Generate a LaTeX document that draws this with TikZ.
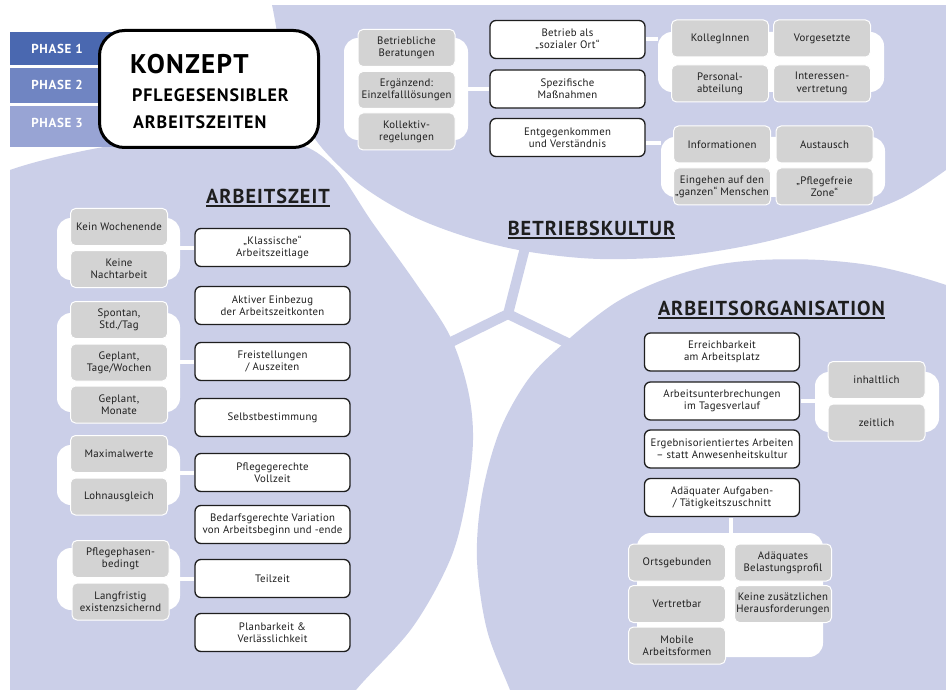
\documentclass[tikz,border=0pt]{standalone}
\usepackage{fontspec}
\setmainfont{PT Sans}[LetterSpace=2.5]
\newfontfamily\headfont{PT Sans}[LetterSpace=5]
\usetikzlibrary{positioning}

\definecolor{lav}{RGB}{203,207,232}
\definecolor{boxgray}{RGB}{211,211,211}
\definecolor{ph1}{RGB}{74,104,176}
\definecolor{ph2}{RGB}{112,133,194}
\definecolor{ph3}{RGB}{152,164,212}
\definecolor{ink}{RGB}{30,30,30}
\newcommand{\thickul}[1]{\setbox0=\hbox{#1}\leavevmode\rlap{\vrule height -1.5pt depth 3.5pt width \wd0}\box0}

\begin{document}
\begin{tikzpicture}[x=1pt,y=-1pt,
  region/.style={fill=lav},
  spoke/.style={draw=lav,line width=10pt,line cap=round},
  grp/.style={fill=white,rounded corners=14pt,inner sep=0pt},
  itm/.style={draw=white,line width=1pt,fill=boxgray,rounded corners=5pt,minimum width=97pt,minimum height=37pt,inner sep=1pt,align=center,text=ink,font=\fontsize{10.8}{12.3}\selectfont},
  blk/.style={draw=ink,line width=1.3pt,fill=white,rounded corners=6pt,minimum width=155pt,minimum height=38pt,inner sep=1pt,align=center,text=ink,font=\fontsize{10.8}{12.3}\selectfont},
  lnk/.style={draw=white,line width=4pt,shorten >=0.7pt},
  ttl/.style={anchor=base,inner sep=0pt,text=ink,font=\headfont\fontsize{20.2}{24}\selectfont\bfseries},
  kzt/.style={anchor=base west,inner sep=0pt,font=\headfont\fontsize{#1}{#1}\selectfont\bfseries},
  phtxt/.style={text=white,font=\headfont\fontsize{13}{15}\selectfont\bfseries}]
  \useasboundingbox (0,0) rectangle (946,690);
  \fill[white] (0,0) rectangle (946,690);
  % ---------- background
  \begin{scope}
  \clip (10,6) rectangle (946,690);
  \fill[region] plot[smooth,tension=.55] coordinates {(262,-30) (272,5) (283,62) (300,112) (322,148) (362,186) (412,216) (470,238) (530,252) (600,259) (680,256) (760,243) (840,221) (900,199) (946,170) (990,135)} -- (990,-30) -- cycle;
  \fill[region] plot[smooth,tension=.55] coordinates {(-40,200) (10,170) (110,146) (220,137) (295,143) (335,168) (372,222) (415,282) (450,336) (468,390) (473,440) (466,500) (450,560) (412,628) (356,690) (320,740)} -- (-40,740) -- cycle;
  \fill[region] plot[smooth,tension=.55] coordinates {(1000,308) (946,285) (880,267) (820,260) (760,260) (710,266) (660,281) (615,303) (570,338) (530,377) (500,430) (482,495) (477,560) (487,630) (510,690) (530,740)} -- (1000,740) -- cycle;
  \coordinate (hub) at (508,314);
  \coordinate (hubT) at (527,240);
  \coordinate (hubL) at (445,345);
  \coordinate (hubR) at (578,348);
  \draw[spoke] (hubT) -- (hub) -- (hubL);
  \draw[spoke] (hub) -- (hubR);
  \end{scope}
  % ---------- Betriebskultur
  \node[grp,minimum width=124pt,minimum height=102pt] (cBK1) at (406,89) {};
  \node[grp,minimum width=226pt,minimum height=60pt] (cBK2) at (771,62) {};
  \node[grp,minimum width=224pt,minimum height=60pt] (cBK3) at (773,167) {};
  \node[itm] (bera) at (406.5,48) {Betriebliche\\Beratungen};
  \node[itm] (einz) at (406.5,90) {Ergänzend:\\Einzelfalllösungen};
  \node[itm] (koll) at (406.5,131.5) {Kollektiv-\\regelungen};
  \node[blk] (sozo) at (567.5,39.5) {Betrieb als\\„sozialer Ort“};
  \node[blk] (spez) at (567.5,89) {Spezifische\\Maßnahmen};
  \node[blk] (entg) at (567.5,137.5) {Entgegenkommen\\und Verständnis};
  \node[itm] (kolg) at (720,38.5) {KollegInnen};
  \node[itm] (vorg) at (822,38.5) {Vorgesetzte};
  \node[itm] (pers) at (720,83.5) {Personal-\\abteilung};
  \node[itm] (intv) at (822,83.5) {Interessen-\\vertretung};
  \node[itm] (info) at (722,144.5) {Informationen};
  \node[itm] (aust) at (824.5,144.5) {Austausch};
  \node[itm] (mens) at (722,186.5) {Eingehen auf den\\„ganzen“ Menschen};
  \node[itm] (zone) at (824.5,186.5) {„Pflegefreie\\Zone“};
  \draw[lnk] (cBK1.east |- spez.west) -- (spez.west);
  \draw[lnk] (cBK2.west |- sozo.east) -- (sozo.east);
  \draw[lnk] ([yshift=-6pt]entg.east -| cBK3.west) -- ([yshift=-6pt]entg.east);
  \node[ttl] (tBK) at (591.5,236) {\thickul{BETRIEBSKULTUR}};
  % ---------- Arbeitszeit
  \node[grp,minimum width=123pt,minimum height=62pt] (cAZ1) at (118.5,249) {};
  \node[grp,minimum width=123pt,minimum height=99pt] (cAZ2) at (118.5,362.5) {};
  \node[grp,minimum width=123pt,minimum height=60pt] (cAZ3) at (118.5,475) {};
  \node[grp,minimum width=123pt,minimum height=62pt] (cAZ4) at (118.5,579) {};
  \node[itm] (wend) at (119,227) {Kein Wochenende};
  \node[itm] (nacht) at (119,269) {Keine\\Nachtarbeit};
  \node[itm] (spon) at (119,320) {Spontan,\\Std./Tag};
  \node[itm] (gtw) at (119,362.5) {Geplant,\\Tage/Wochen};
  \node[itm] (gmon) at (119,404.5) {Geplant,\\Monate};
  \node[itm] (maxw) at (119,454) {Maximalwerte};
  \node[itm] (lohn) at (119,496.5) {Lohnausgleich};
  \node[itm] (pfph) at (120.5,559) {Pflegephasen-\\bedingt};
  \node[itm] (lang) at (120.5,601.5) {Langfristig\\existenzsichernd};
  \node[blk] (klas) at (272.5,247.5) {„Klassische“\\Arbeitszeitlage};
  \node[blk] (akti) at (272.5,305.5) {Aktiver Einbezug\\der Arbeitszeitkonten};
  \node[blk] (frei) at (272.5,361.5) {Freistellungen\\/ Auszeiten};
  \node[blk] (selb) at (272.5,417.5) {Selbstbestimmung};
  \node[blk] (voll) at (272.5,472.5) {Pflegegerechte\\Vollzeit};
  \node[blk] (vari) at (272.5,524.5) {Bedarfsgerechte Variation\\von Arbeitsbeginn und -ende};
  \node[blk] (teil) at (272.5,578.5) {Teilzeit};
  \node[blk] (plan) at (272.5,632.5) {Planbarkeit \&\\Verlässlichkeit};
  \draw[lnk] (cAZ1.east |- klas.west) -- (klas.west);
  \draw[lnk] (cAZ2.east |- frei.west) -- (frei.west);
  \draw[lnk] (cAZ3.east |- voll.west) -- (voll.west);
  \draw[lnk] (cAZ4.east |- teil.west) -- (teil.west);
  \node[ttl] (tAZ) at (268,204) {\thickul{ARBEITSZEIT}};
  % ---------- Arbeitsorganisation
  \node[grp,minimum width=124pt,minimum height=60pt] (cAO1) at (877,402) {};
  \node[grp,minimum width=186pt,minimum height=124pt] (cAO2) at (730,595) {};
  \node[blk] (erre) at (722,352) {Erreichbarkeit\\am Arbeitsplatz};
  \node[blk] (unte) at (722,401) {Arbeitsunterbrechungen\\im Tagesverlauf};
  \node[blk] (ergb) at (722,449) {Ergebnisorientiertes Arbeiten\\– statt Anwesenheitskultur};
  \node[blk] (zusc) at (722,497.5) {Adäquater Aufgaben-\\/ Tätigkeitszuschnitt};
  \node[itm] (inha) at (876.5,380) {inhaltlich};
  \node[itm] (zeit) at (876.5,422.5) {zeitlich};
  \node[itm] (orts) at (677,562.5) {Ortsgebunden};
  \node[itm] (vert) at (677,604) {Vertretbar};
  \node[itm] (mobi) at (677,645.5) {Mobile\\Arbeitsformen};
  \node[itm] (bela) at (783,562.5) {Adäquates\\Belastungsprofil};
  \node[itm] (hera) at (783,604) {Keine zusätzlichen\\Herausforderungen};
  \draw[lnk] (cAO1.west |- unte.east) -- (unte.east);
  \draw[lnk] ([xshift=9pt]zusc.south |- cAO2.north) -- ([xshift=9pt]zusc.south);
  \node[ttl] (tAO) at (771.5,315) {\thickul{ARBEITSORGANISATION}};
  % ---------- Konzept + phases
  \fill[ph1] (10,32) rectangle (122,65);
  \fill[ph2] (10,68) rectangle (122,103);
  \fill[ph3] (10,106) rectangle (122,147);
  \node[phtxt] (p1) at (57,48.5) {PHASE 1};
  \node[phtxt] (p2) at (57,85) {PHASE 2};
  \node[phtxt] (p3) at (57,123) {PHASE 3};
  \node[draw=black,line width=3pt,fill=white,rounded corners=25pt,minimum width=219pt,minimum height=117pt] (konz) at (209,89) {};
  \node[kzt=27] (kt) at (130,74) {KONZEPT};
  \node[kzt=18] (ks1) at (132,102) {PFLEGESENSIBLER};
  \node[kzt=18] (ks2) at (133,129) {ARBEITSZEITEN};
\end{tikzpicture}
\end{document}
